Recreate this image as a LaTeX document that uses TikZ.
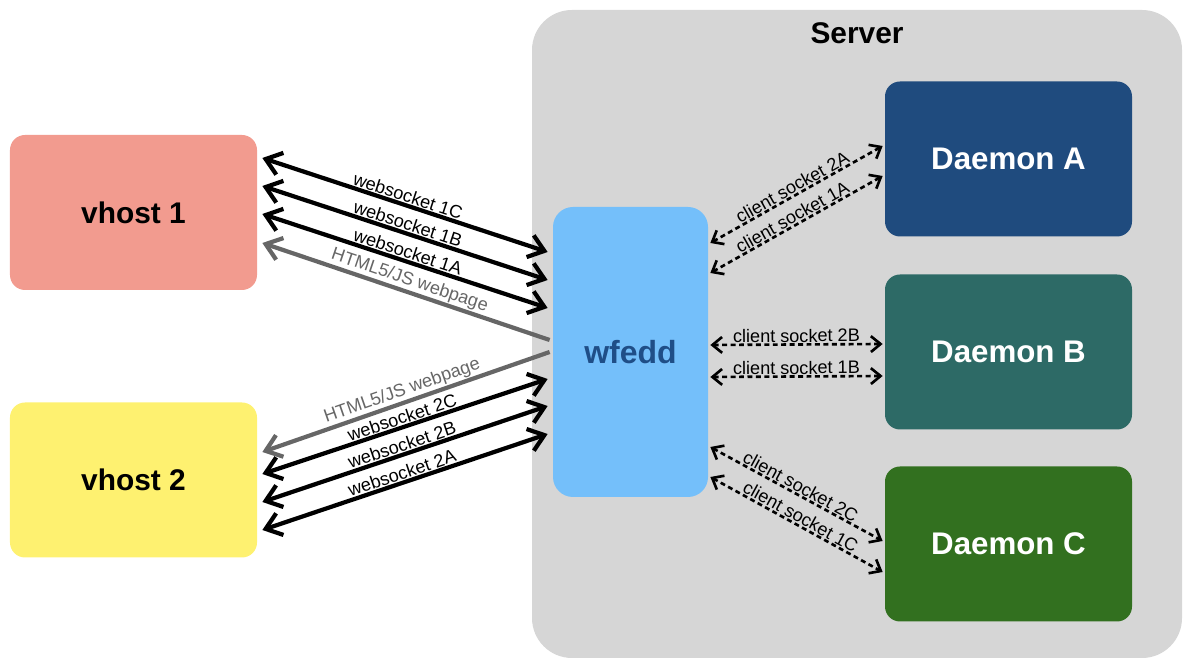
\documentclass[tikz,border=0pt]{standalone}
\usepackage{fontspec}
\setmainfont{Liberation Sans}
\usepackage{xcolor}
\usetikzlibrary{shapes.geometric, arrows.meta, positioning}

\definecolor{hostone}{HTML}{F29B8F}
\definecolor{hosttwo}{HTML}{FEF170}
\definecolor{proxyblue}{HTML}{74BFFA}
\definecolor{proxytext}{HTML}{1F4E87}
\definecolor{daemona}{HTML}{1F4B7E}
\definecolor{daemonb}{HTML}{2D6A66}
\definecolor{daemonc}{HTML}{32701F}
\definecolor{servergray}{HTML}{D6D6D6}
\definecolor{pagegray}{HTML}{666666}

\newcommand{\boxfont}{\fontsize{17}{20}\selectfont\bfseries}
\newcommand{\arrowfont}{\fontsize{10.3}{12}\selectfont}

\tikzstyle{serverbox} = [rectangle, rounded corners=0.8cm, minimum width=13cm, minimum height=12.96cm, fill=servergray]
\tikzstyle{host} = [rectangle, rounded corners=0.3cm, minimum width=4.94cm, minimum height=3.1cm, text centered, font=\boxfont]
\tikzstyle{daemon} = [host, text=white, font=\fontsize{17.8}{20}\selectfont\bfseries]
\tikzstyle{proxy} = [rectangle, rounded corners=0.4cm, minimum width=3.1cm, minimum height=5.8cm, text centered, fill=proxyblue, text=proxytext, font=\fontsize{18.2}{20}\selectfont\bfseries]
\tikzstyle{wsarrow} = [line width=2.4pt, {Straight Barb[length=8.5pt,width=13pt]}-{Straight Barb[length=8.5pt,width=13pt]}]
\tikzstyle{pagearrow} = [line width=2.4pt, pagegray, {Straight Barb[length=8.5pt,width=13pt]}-]
\tikzstyle{sockarrow} = [line width=1.5pt, dash pattern=on 2.8pt off 2pt, {Straight Barb[length=5.5pt,width=9pt]}-{Straight Barb[length=5.5pt,width=9pt]}]
\tikzstyle{lbl} = [midway, above, sloped, inner sep=0.5pt, font=\arrowfont]

\begin{document}
\begin{tikzpicture}[node distance=2cm]

      \useasboundingbox (-2.67,4.25) rectangle (21.15,-9.07);

      % Nodes
      \node (vhost1) [host, fill=hostone] {vhost 1};
      \node (server) [serverbox, right of=vhost1, xshift=12.47cm, yshift=-2.43cm] {};
      \node (srvtitle) [above of=server, yshift=4.02cm, font=\boxfont] {Server};
      \node (vhost2) [host, fill=hosttwo, below of=vhost1, yshift=-3.35cm] {vhost 2};
      \node (wfedd) [proxy, right of=vhost1, xshift=7.94cm, yshift=-2.79cm] {wfedd};

      \node (daemonB) [daemon, fill=daemonb, right of=wfedd, xshift=5.56cm] {Daemon B};
      \node (daemonA) [daemon, fill=daemona, above of=daemonB, yshift=1.86cm] {Daemon A};
      \node (daemonC) [daemon, fill=daemonc, below of=daemonB, yshift=-1.84cm] {Daemon C};

      % Arrows vhost 1
      \draw [wsarrow] ([xshift=0.1cm,yshift=1.09cm]vhost1.east) -- node[lbl] {websocket 1C} ([xshift=-0.1cm,yshift=2cm]wfedd.west);
      \draw [wsarrow] ([xshift=0.1cm,yshift=0.53cm]vhost1.east) -- node[lbl] {websocket 1B} ([xshift=-0.1cm,yshift=1.44cm]wfedd.west);
      \draw [wsarrow] ([xshift=0.1cm,yshift=-0.03cm]vhost1.east) -- node[lbl] {websocket 1A} ([xshift=-0.1cm,yshift=0.88cm]wfedd.west);
      \draw [pagearrow] ([xshift=0.1cm,yshift=-0.61cm]vhost1.east) -- node[lbl, text=pagegray] {HTML5/JS webpage} ([xshift=-0.06cm,yshift=0.24cm]wfedd.west);

      % Arrows vhost 2
      \draw [pagearrow] ([xshift=0.1cm,yshift=0.56cm]vhost2.east) -- node[lbl, text=pagegray] {HTML5/JS webpage} ([xshift=-0.06cm]wfedd.west);
      \draw [wsarrow] ([xshift=0.1cm,yshift=0.12cm]vhost2.east) -- node[lbl] {websocket 2C} ([xshift=-0.1cm,yshift=-0.54cm]wfedd.west);
      \draw [wsarrow] ([xshift=0.1cm,yshift=-0.44cm]vhost2.east) -- node[lbl] {websocket 2B} ([xshift=-0.1cm,yshift=-1.08cm]wfedd.west);
      \draw [wsarrow] ([xshift=0.1cm,yshift=-1cm]vhost2.east) -- node[lbl] {websocket 2A} ([xshift=-0.1cm,yshift=-1.64cm]wfedd.west);

      % Client sockets
      \draw [sockarrow] ([xshift=0.04cm,yshift=2.18cm]wfedd.east) -- node[lbl] {client socket 2A} ([xshift=-0.04cm,yshift=0.26cm]daemonA.west);
      \draw [sockarrow] ([xshift=0.04cm,yshift=1.58cm]wfedd.east) -- node[lbl] {client socket 1A} ([xshift=-0.04cm,yshift=-0.34cm]daemonA.west);
      \draw [sockarrow] ([xshift=0.04cm,yshift=0.14cm]wfedd.east) -- node[lbl] {client socket 2B} ([xshift=-0.04cm,yshift=0.16cm]daemonB.west);
      \draw [sockarrow] ([xshift=0.04cm,yshift=-0.5cm]wfedd.east) -- node[lbl] {client socket 1B} ([xshift=-0.04cm,yshift=-0.48cm]daemonB.west);
      \draw [sockarrow] ([xshift=0.04cm,yshift=-1.9cm]wfedd.east) -- node[lbl] {client socket 2C} ([xshift=-0.04cm,yshift=0.06cm]daemonC.west);
      \draw [sockarrow] ([xshift=0.04cm,yshift=-2.5cm]wfedd.east) -- node[lbl] {client socket 1C} ([xshift=-0.04cm,yshift=-0.56cm]daemonC.west);

    \end{tikzpicture}
\end{document}
